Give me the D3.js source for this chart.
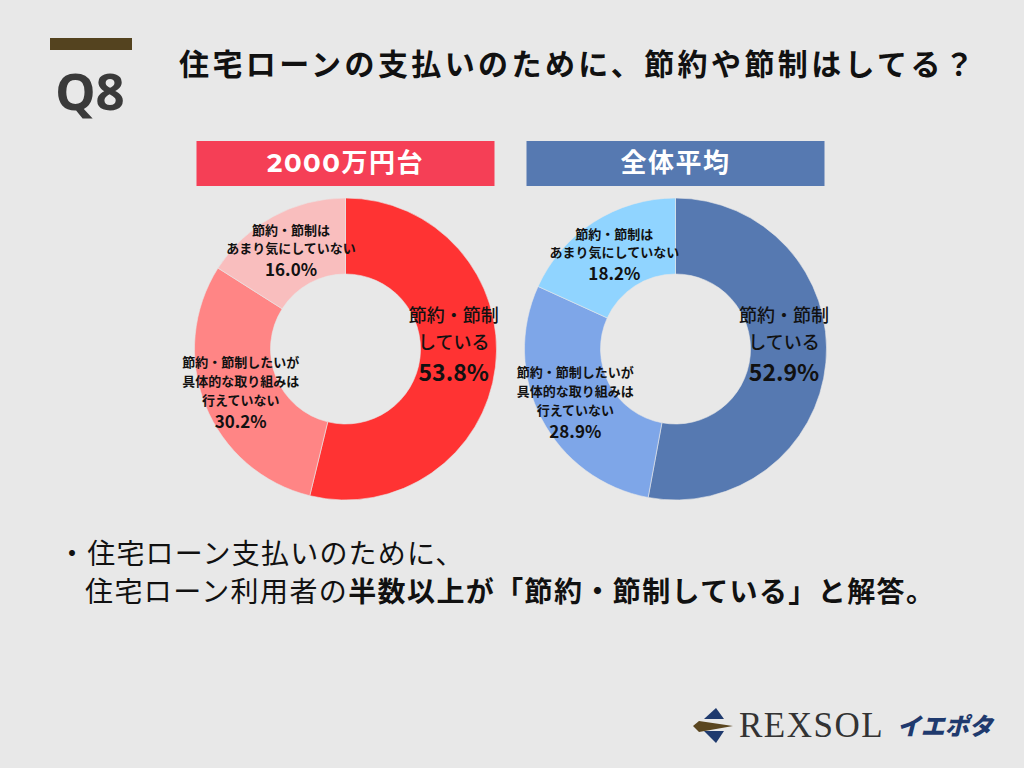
<!DOCTYPE html>
<html>
<head>
<meta charset="utf-8">
<script src="https://cdn.jsdelivr.net/npm/d3@7"></script>
<style>
  body { margin: 0; background: #e8e8e8; }
  svg { display: block; }
</style>
</head>
<body>
<div id="chart"></div>
<script>
// data
var categories = ["節約・節制している", "節約・節制したいが具体的な取り組みは行えていない", "節約・節制はあまり気にしていない"];
var groups = ["2000万円台", "全体平均"];
var values2000 = [53.8, 30.2, 16.0];
var valuesAll = [52.9, 28.9, 18.2];
// how each category label wraps
var labelLines = [
  ["節約・節制", "している"],
  ["節約・節制したいが", "具体的な取り組みは", "行えていない"],
  ["節約・節制は", "あまり気にしていない"]
];

var width = 1024, height = 768;
var font = "'Noto Sans CJK JP', 'Noto Sans', sans-serif";

var svg = d3.select("#chart")
  .append("svg")
    .attr("width", width)
    .attr("height", height);

svg.append("rect")
  .attr("width", width)
  .attr("height", height)
  .attr("fill", "#e8e8e8");

// Q8 badge
svg.append("rect")
  .attr("x", 50).attr("y", 38)
  .attr("width", 82).attr("height", 12)
  .attr("fill", "#54431f");

svg.append("text")
  .attr("x", 90).attr("y", 110)
  .attr("text-anchor", "middle")
  .style("font-family", "'Noto Sans', 'DejaVu Sans', sans-serif")
  .style("font-weight", "bold")
  .style("font-size", "51px")
  .attr("fill", "#3a3a3a")
  .text("Q8");

// title
svg.append("text")
  .attr("x", 179).attr("y", 62)
  .attr("dominant-baseline", "central")
  .style("font-family", font)
  .style("font-weight", "bold")
  .style("font-size", "30px")
  .style("letter-spacing", "3.4px")
  .attr("fill", "#111")
  .text("住宅ローンの支払いのために、節約や節制はしてる？");

var donuts = [
  { name: groups[0], values: values2000, cx: 345.5, headColor: "#f53f56",
    colors: ["#ff3333", "#ff8585", "#f9bebe"] },
  { name: groups[1], values: valuesAll, cx: 675.5, headColor: "#5679b1",
    colors: ["#5679b1", "#7ea6e8", "#90d4ff"] }
];

var cy = 349;
var outerR = 151, innerR = 75;

var pie = d3.pie().sort(null).value(function(d) { return d; });
var arc = d3.arc().innerRadius(innerR).outerRadius(outerR);
var labelArc = d3.arc().innerRadius(113).outerRadius(113);

donuts.forEach(function(dn) {
  // header box
  svg.append("rect")
    .attr("x", dn.cx - 149).attr("y", 141)
    .attr("width", 298).attr("height", 45)
    .attr("fill", dn.headColor);

  svg.append("text")
    .attr("x", dn.cx).attr("y", 163)
    .attr("text-anchor", "middle")
    .attr("dominant-baseline", "central")
    .style("font-family", "'Montserrat', 'Noto Sans CJK JP', sans-serif")
    .style("font-weight", "bold")
    .style("font-size", "26px")
    .style("letter-spacing", "1.5px")
    .attr("fill", "#fff")
    .text(dn.name);

  var g = svg.append("g")
    .attr("transform", "translate(" + dn.cx + "," + cy + ")");

  var arcs = pie(dn.values);

  g.selectAll("path")
    .data(arcs)
    .enter().append("path")
      .attr("d", arc)
      .attr("fill", function(d, i) { return dn.colors[i]; })
      .attr("stroke", "#e8e8e8")
      .attr("stroke-width", 0.6);

  arcs.forEach(function(a, i) {
    var c = labelArc.centroid(a);
    var lines = labelLines[i];
    var big = (i === 0);
    var step = big ? 27 : (i === 1 ? 19 : 18);
    var x = big ? c[0] - 4 : c[0];
    var t = g.append("g")
      .attr("transform", "translate(" + x + "," + (big ? -8 : c[1]) + ")");
    var n = lines.length;
    var y0 = big ? -27 : (i === 1 ? -30 : -20);
    lines.forEach(function(s, k) {
      t.append("text")
        .attr("x", 0).attr("y", y0 + k * step)
        .attr("text-anchor", "middle")
        .attr("dominant-baseline", "central")
        .style("font-family", font)
        .style("font-weight", big ? "500" : "bold")
        .style("font-size", big ? "18px" : "13px")
        .attr("fill", "#111")
        .text(s);
    });
    t.append("text")
      .attr("x", 0).attr("y", y0 + (n - 1) * step + (big ? 30 : 21))
      .attr("text-anchor", "middle")
      .attr("dominant-baseline", "central")
      .style("font-family", font)
      .style("font-weight", "bold")
      .style("font-size", big ? "23px" : "17px")
      .attr("fill", "#111")
      .text(d3.format(".1f")(dn.values[i]) + "%");
  });
});

// footnote
svg.append("text")
  .attr("x", 58).attr("y", 552)
  .attr("dominant-baseline", "central")
  .style("font-family", font)
  .style("font-size", "28px")
  .style("letter-spacing", "1.2px")
  .attr("fill", "#111")
  .text("・住宅ローン支払いのために、");

var note2 = svg.append("text")
  .attr("x", 85).attr("y", 590)
  .attr("dominant-baseline", "central")
  .style("font-family", font)
  .style("font-size", "28px")
  .style("letter-spacing", "1.4px")
  .attr("fill", "#111");
note2.append("tspan").text("住宅ローン利用者の");
note2.append("tspan").style("font-weight", "bold").text("半数以上が「節約・節制している」と解答。");

// logo
var logo = svg.append("g");
logo.append("path")
  .attr("d", "M704,719 L716,708 L724,719 Z")
  .attr("fill", "#1f3a6e");
logo.append("path")
  .attr("d", "M704,731 L724,731 L716,743 Z")
  .attr("fill", "#1f3a6e");
logo.append("path")
  .attr("d", "M693,726 L699,721 L733,726 L699,732 Z")
  .attr("fill", "#5a4620");

logo.append("text")
  .attr("x", 739).attr("y", 737)
  .style("font-family", "'Liberation Serif', 'DejaVu Serif', serif")
  .style("font-size", "35px")
  .style("letter-spacing", "1.5px")
  .attr("fill", "#333")
  .text("REXSOL");

logo.append("text")
  .attr("x", 897).attr("y", 735)
  .style("font-family", font)
  .style("font-weight", "900")
  .style("font-style", "italic")
  .style("font-size", "24px")
  .attr("fill", "#1f3a6e")
  .text("イエポタ");
</script>
</body>
</html>
